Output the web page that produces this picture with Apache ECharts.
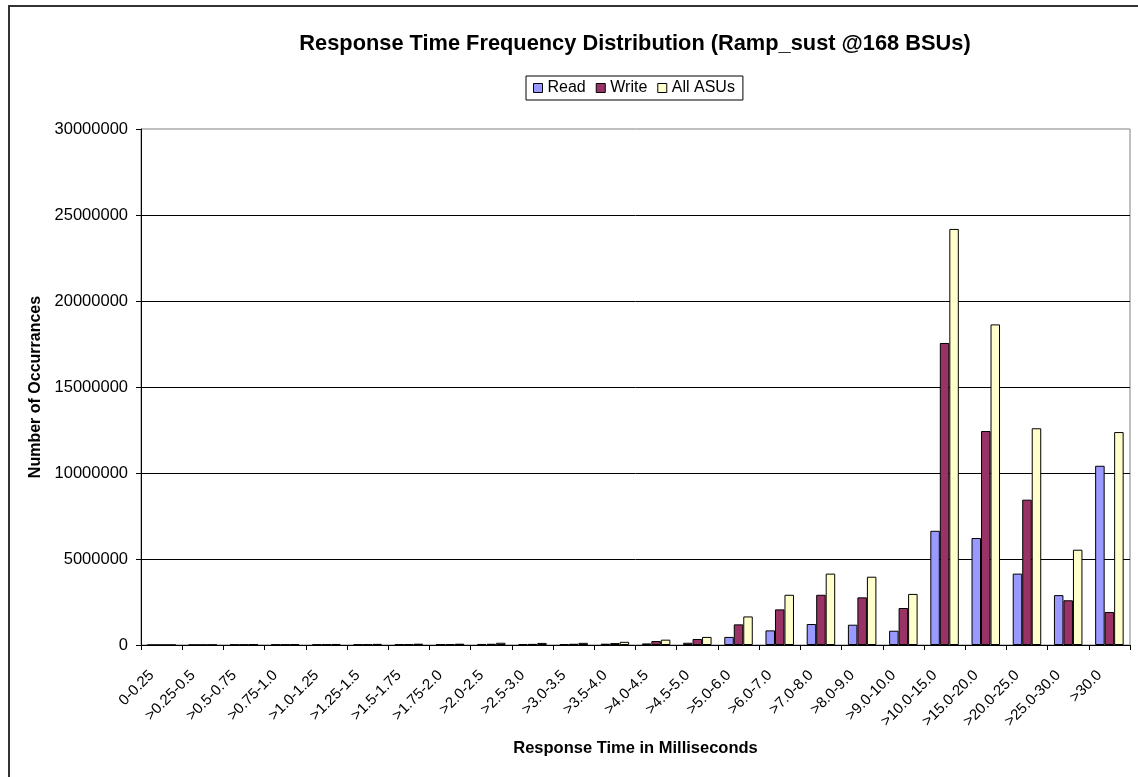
<!DOCTYPE html>
<html>
<head>
<meta charset="utf-8">
<script src="https://cdn.jsdelivr.net/npm/echarts@6/dist/echarts.min.js"></script>
<style>
  html, body { margin: 0; padding: 0; background: #fff; }
  #chart { width: 1138px; height: 777px; }
</style>
</head>
<body>
<div id="chart"></div>
<script>
// response time buckets (ms)
var categories = ['0-0.25', '>0.25-0.5', '>0.5-0.75', '>0.75-1.0', '>1.0-1.25', '>1.25-1.5',
    '>1.5-1.75', '>1.75-2.0', '>2.0-2.5', '>2.5-3.0', '>3.0-3.5', '>3.5-4.0', '>4.0-4.5',
    '>4.5-5.0', '>5.0-6.0', '>6.0-7.0', '>7.0-8.0', '>8.0-9.0', '>9.0-10.0', '>10.0-15.0',
    '>15.0-20.0', '>20.0-25.0', '>25.0-30.0', '>30.0'];

var readData = [1000, 5000, 20000, 25000, 30000, 30000, 35000, 35000, 60000, 55000, 55000, 75000,
    90000, 130000, 470000, 850000, 1220000, 1180000, 830000, 6640000, 6220000, 4150000, 2900000, 10420000];

var writeData = [1000, 5000, 20000, 25000, 30000, 35000, 40000, 40000, 70000, 65000, 70000, 110000,
    230000, 350000, 1200000, 2070000, 2920000, 2770000, 2150000, 17560000, 12440000, 8450000, 2600000, 1920000];

var allData = [2000, 10000, 40000, 50000, 60000, 65000, 75000, 75000, 130000, 120000, 125000, 185000,
    310000, 470000, 1660000, 2920000, 4150000, 3970000, 2970000, 24190000, 18640000, 12600000, 5540000, 12380000];

var yTicks = [0, 5000000, 10000000, 15000000, 20000000, 25000000, 30000000];

var chart = echarts.init(document.getElementById('chart'));

function barSeries(name, data, color) {
    return {
        name: name,
        type: 'bar',
        data: data,
        barWidth: 9.5,
        barGap: '0%',
        itemStyle: { color: color, borderColor: '#000', borderWidth: 1 },
        animation: false
    };
}

chart.setOption({
    animation: false,
    textStyle: { fontFamily: 'Liberation Sans, Arial, sans-serif', color: '#000' },
    title: {
        text: 'Response Time Frequency Distribution (Ramp_sust @168 BSUs)',
        left: 630,
        textAlign: 'center',
        top: 28,
        textStyle: { fontSize: 21.8, fontWeight: 'bold', color: '#000' }
    },
    legend: {
        data: ['Read', 'Write', 'All ASUs'],
        left: 526,
        top: 76,
        padding: [4, 8, 4, 7],
        itemGap: 10,
        itemWidth: 9,
        itemHeight: 9,
        borderColor: '#000',
        borderWidth: 1,
        borderRadius: 0,
        icon: 'rect',
        itemStyle: { borderColor: '#000', borderWidth: 1 },
        textStyle: { fontSize: 16, color: '#000' }
    },
    grid: { left: 141, right: 8, top: 129, bottom: 132, containLabel: false, show: true, borderColor: '#808080', borderWidth: 1 },
    xAxis: {
        type: 'category',
        data: categories,
        name: 'Response Time in Milliseconds',
        nameLocation: 'middle',
        nameGap: 95,
        nameTextStyle: { fontSize: 16.5, fontWeight: 'bold', color: '#000' },
        axisLine: { lineStyle: { color: '#000', width: 1 } },
        axisTick: { show: true, alignWithLabel: false, length: 5, lineStyle: { color: '#000' } },
        axisLabel: { rotate: 45, interval: 0, fontSize: 15, color: '#000', margin: 18, padding: [0, 14, 0, 0] }
    },
    yAxis: {
        type: 'value',
        min: 0,
        max: 30000000,
        interval: 5000000,
        name: 'Number of Occurrances',
        nameLocation: 'middle',
        nameGap: 96,
        nameTextStyle: { fontSize: 16, fontWeight: 'bold', color: '#000' },
        axisLine: { show: true, lineStyle: { color: '#000', width: 1 } },
        axisTick: { show: true, length: 5, lineStyle: { color: '#000' } },
        axisLabel: {
            fontSize: 16.5, color: '#000', margin: 13,
            formatter: function (v) { return yTicks.indexOf(v) >= 0 ? String(v) : ''; }
        },
        splitLine: { show: true, showMaxLine: false, lineStyle: { color: '#000', width: 1 } }
    },
    graphic: [{
        type: 'rect',
        shape: { x: 9, y: 6, width: 1300, height: 1000 },
        style: { fill: 'none', stroke: '#333', lineWidth: 2 },
        silent: true
    }],
    series: [
        barSeries('Read', readData, '#9999FF'),
        barSeries('Write', writeData, '#993366'),
        barSeries('All ASUs', allData, '#FFFFCC')
    ]
});
</script>
</body>
</html>
